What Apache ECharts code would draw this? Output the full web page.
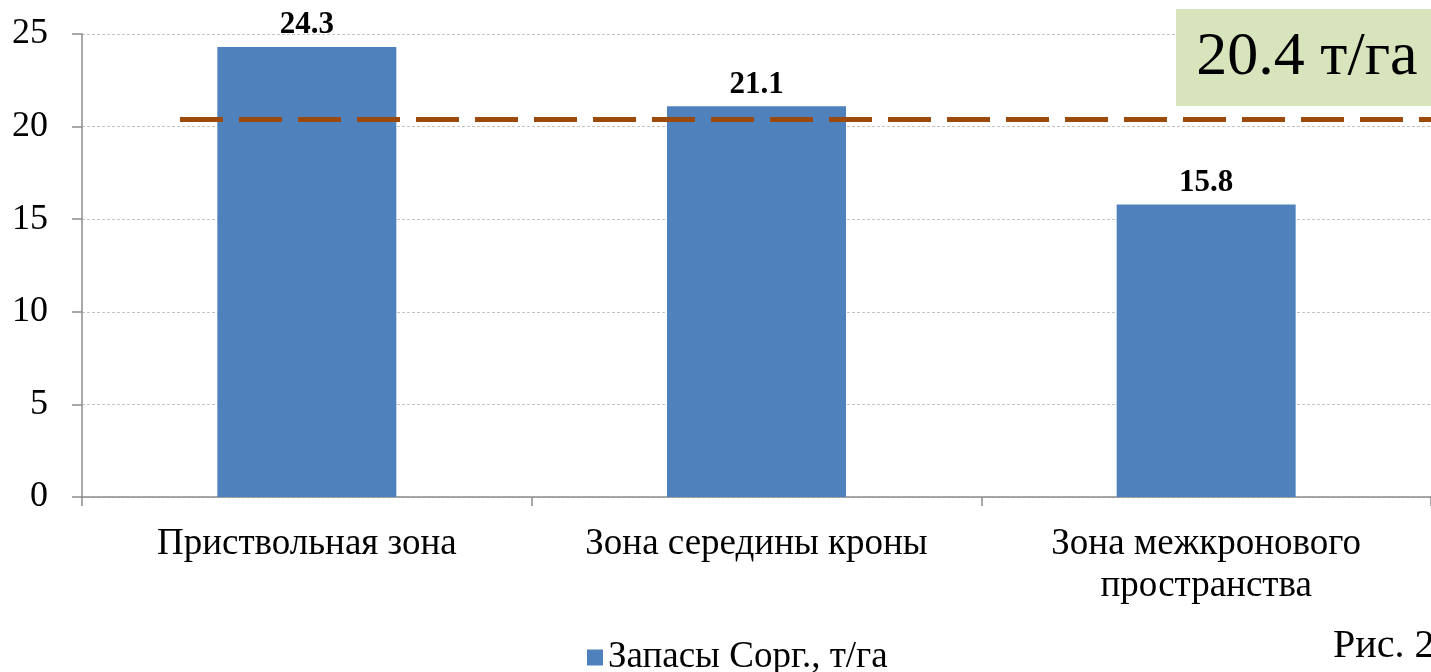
<!DOCTYPE html>
<html>
<head>
<meta charset="utf-8">
<script src="https://cdn.jsdelivr.net/npm/echarts@6/dist/echarts.min.js"></script>
<style>
  html, body { margin: 0; padding: 0; background: #fff; }
  #chart { width: 1431px; height: 672px; }
</style>
</head>
<body>
<div id="chart"></div>
<script>
// Запасы органического углерода по зонам
const categories = ['Приствольная зона', 'Зона середины кроны', 'Зона межкронового\nпространства'];
const stockValues = [24.3, 21.1, 15.8];
const seriesName = 'Запасы Сорг., т/га';
const averageValue = 20.4;
const averageUnit = 'т/га';
const figureCaption = 'Рис. 2';

const serif = '"Liberation Serif", "Times New Roman", serif';

const chart = echarts.init(document.getElementById('chart'));
chart.setOption({
  animation: false,
  backgroundColor: '#ffffff',
  textStyle: { fontFamily: serif },
  grid: { left: 82, top: 34, width: 1353, height: 463, containLabel: false },
  legend: {
    left: 582, top: 634,
    itemWidth: 16, itemHeight: 16, itemGap: 10,
    icon: 'rect',
    textStyle: { fontFamily: serif, fontSize: 37, color: '#000' },
    data: [seriesName]
  },
  xAxis: {
    type: 'category',
    data: categories,
    axisLine: { lineStyle: { color: '#8c8c8c', width: 1.5 } },
    axisTick: { show: true, length: 9, alignWithLabel: false, lineStyle: { color: '#8c8c8c', width: 1.5 } },
    axisLabel: { fontFamily: serif, fontSize: 37, color: '#000', margin: 26, lineHeight: 42, interval: 0 }
  },
  yAxis: {
    type: 'value',
    min: 0, max: 25, interval: 5,
    axisLine: { show: true, lineStyle: { color: '#8c8c8c', width: 1.5 } },
    axisTick: { show: true, length: 10, lineStyle: { color: '#8c8c8c', width: 1.5 } },
    axisLabel: { fontFamily: serif, fontSize: 36, color: '#000', margin: 34 },
    splitLine: { show: true, lineStyle: { color: '#c4c4c4', type: [3, 2], width: 1 } }
  },
  series: [{
    name: seriesName,
    type: 'bar',
    data: stockValues,
    barWidth: 179,
    itemStyle: { color: '#4f81bd' },
    label: {
      show: true, position: 'top', distance: 6,
      fontFamily: serif, fontSize: 31, fontWeight: 'bold', color: '#000',
      formatter: p => p.value.toFixed(1)
    },
    markLine: {
      silent: true,
      symbol: ['none', 'none'],
      label: { show: false },
      lineStyle: { color: '#9c4a0c', width: 5, type: [43, 16] },
      data: [[
        { x: 180, yAxis: averageValue },
        { x: 1431, yAxis: averageValue }
      ]]
    }
  }],
  graphic: [
    {
      type: 'rect',
      shape: { x: 1176, y: 9, width: 260, height: 97 },
      style: { fill: '#d8e4bc' },
      z: 10
    },
    {
      type: 'text',
      x: 1307, y: 58,
      style: {
        text: averageValue.toFixed(1) + ' ' + averageUnit,
        font: '62px ' + serif,
        fill: '#000',
        align: 'center',
        verticalAlign: 'middle'
      },
      z: 11
    },
    {
      type: 'text',
      x: 1333, y: 646,
      style: {
        text: figureCaption,
        font: '40px ' + serif,
        fill: '#000',
        align: 'left',
        verticalAlign: 'middle'
      }
    }
  ]
});
</script>
</body>
</html>
